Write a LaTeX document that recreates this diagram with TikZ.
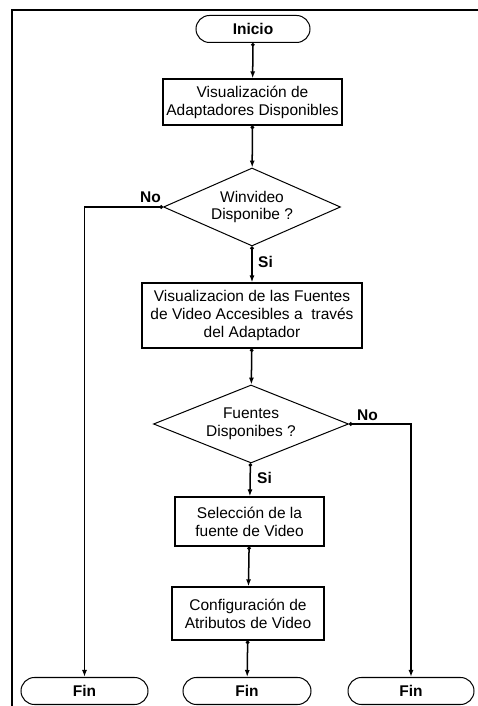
\documentclass[tikz,border=0pt]{standalone}
\usepackage{fontspec}
\setmainfont{Liberation Sans}
\usetikzlibrary{shapes.geometric, shapes.misc, arrows.meta}
\begin{document}
\begin{tikzpicture}[x=1pt, y=1pt,
      font=\fontsize{15.5}{18}\selectfont,
      caja/.style={draw, line width=1.2bp, align=center, inner sep=0pt},
      rombo/.style={draw, diamond, line width=1bp, align=center, inner sep=0pt},
      terminal/.style={draw, rounded rectangle, line width=1bp, font=\fontsize{15.5}{18}\selectfont\bfseries,
        minimum height=27pt, inner sep=0pt},
      flecha/.style={line width=1.5bp, {Circle[length=3.5pt]}-{Latex[length=7pt, width=5pt]}},
      etiqueta/.style={font=\fontsize{15.5}{18}\selectfont\bfseries, inner sep=0pt}]

      \useasboundingbox (0,0) rectangle (478,706);
      \clip (0,0) rectangle (478,706);

      % Marco
      \draw [line width=2.5bp] (12,-20) -- (12,696) -- (500,696);

      % Nodos
      \node [terminal, minimum width=114pt] (inicio) at (253,677) {Inicio};
      \node [caja, minimum width=179pt, minimum height=46pt] (adapt) at (252.5,604)
        {Visualización de\\Adaptadores Disponibles};
      \node [rombo, aspect=2.27, minimum width=177pt, minimum height=78pt] (winvideo) at (252,499)
        {Winvideo\\Disponibe ?};
      \node [caja, minimum width=220pt, minimum height=65pt] (fuentes) at (252,390.5)
        {Visualizacion de las Fuentes\\de Video Accesibles a\ \ través\\del Adaptador};
      \node [rombo, aspect=2.5, minimum width=195pt, minimum height=78pt] (hayfuentes) at (251,282)
        {Fuentes\\Disponibes ?};
      \node [caja, minimum width=149pt, minimum height=49pt] (seleccion) at (249.5,184.5)
        {Selección de la\\fuente de Video};
      \node [caja, minimum width=152pt, minimum height=53pt] (config) at (248,92.5)
        {Configuración de\\Atributos de Video};
      \node [terminal, minimum width=127pt] (finA) at (84.5,15) {Fin};
      \node [terminal, minimum width=128pt] (finB) at (247,15) {Fin};
      \node [terminal, minimum width=126pt] (finC) at (411,15) {Fin};

      % Etiquetas
      \node [etiqueta, anchor=west] (si1) at ([xshift=6pt, yshift=-15pt]winvideo.south) {Si};
      \node [etiqueta, anchor=east] (no1) at ([xshift=-2pt, yshift=10pt]winvideo.west) {No};
      \node [etiqueta, anchor=west] (no2) at ([xshift=8pt, yshift=9pt]hayfuentes.east) {No};
      \node [etiqueta, anchor=west] (si2) at ([xshift=6pt, yshift=-14pt]hayfuentes.south) {Si};

      % Flechas
      \draw [flecha] (inicio) -- (adapt);
      \draw [flecha] (adapt) -- (winvideo);
      \draw [flecha] (winvideo) -- (fuentes);
      \draw [flecha] (winvideo.west) -| (finA.north);
      \draw [flecha] (fuentes) -- (hayfuentes);
      \draw [flecha] (hayfuentes.east) -| (finC.north);
      \draw [flecha] (hayfuentes) -- (seleccion);
      \draw [flecha] (seleccion) -- (config);
      \draw [flecha] (config) -- (finB);
    \end{tikzpicture}
\end{document}
